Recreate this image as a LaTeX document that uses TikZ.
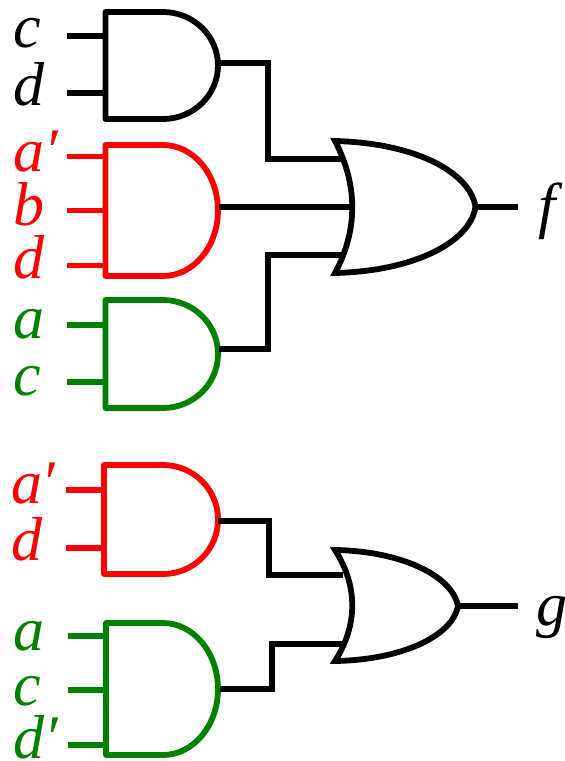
\documentclass[tikz,border=0pt]{standalone}
\usepackage{tikz}
\usepackage{fontspec}
\setmainfont{Liberation Serif}
\usetikzlibrary{positioning}
\definecolor{gateRed}{RGB}{255,0,0}
\definecolor{gateGreen}{RGB}{0,128,0}
\tikzstyle{wire} = [line width=5.8pt,line cap=butt,line join=miter]
\tikzstyle{gate} = [line width=5.8pt,line join=round]
\tikzstyle{orgate} = [line width=5.8pt,line join=miter,miter limit=10]
\tikzstyle{lit} = [anchor=base west,inner sep=0pt,outer sep=0pt,font=\fontsize{62}{62}\selectfont\itshape]
\newcommand{\andbody}[5]{\draw [gate,#1] (#2,#3) -- (163,#3) arc (90:-90:55 and #5) -- (#2,#4) -- cycle;}
\begin{document}
\begin{tikzpicture}[x=1pt,y=-1pt]
	\useasboundingbox (0,0) rectangle (565,761);

	% first output
	\andbody{black}{105.5}{12}{119}{-53.5}
	\andbody{gateRed}{105.5}{145}{276}{-65.5}
	\andbody{gateGreen}{105.5}{300}{408}{-54}

	\coordinate (orfTop) at (335,141);
	\coordinate (orfBot) at (335,273);
	\coordinate (orfOut) at (475.5,207);
	\draw [orgate] (orfTop) .. controls (415,143) and (470,172) .. (orfOut) .. controls (470,242) and (415,271) .. (orfBot) .. controls (358,230) and (358,185) .. cycle;

	\node (c1)[lit] at (13,47) {c};
	\node (d1)[lit] at (13,105) {d};
	\node (a2)[lit,gateRed] at (13,171) {a′};
	\node (b2)[lit,gateRed] at (13,225) {b};
	\node (d2)[lit,gateRed] at (13,278) {d};
	\node (a3)[lit,gateGreen] at (13,338) {a};
	\node (c3)[lit,gateGreen] at (13,395) {c};
	\node (f)[lit] at (538,226) {f};

	\draw [wire] (67,36) -- (105.5,36);
	\draw [wire] (67,93) -- (105.5,93);
	\draw [wire,gateRed] (67,156.5) -- (105.5,156.5);
	\draw [wire,gateRed] (67,210.5) -- (105.5,210.5);
	\draw [wire,gateRed] (67,265.5) -- (105.5,265.5);
	\draw [wire,gateGreen] (67,325) -- (105.5,325);
	\draw [wire,gateGreen] (67,382) -- (105.5,382);

	\draw [wire] (219,63) -| (268,159) -- (342,159);
	\draw [wire] (219,207) -- (352,207);
	\draw [wire] (219,349) -| (268,255) -- (342,255);
	\draw [wire] (orfOut) -- (518,207);

	% second output
	\andbody{gateRed}{104}{465}{574}{-54.5}
	\andbody{gateGreen}{106}{623}{755}{-66}

	\coordinate (orgTop) at (335,550);
	\coordinate (orgBot) at (335,661);
	\coordinate (orgOut) at (458,606);
	\draw [orgate] (orgTop) .. controls (400,551) and (452,575) .. (orgOut) .. controls (452,637) and (400,660) .. (orgBot) .. controls (358,625) and (358,586) .. cycle;

	\node (a4)[lit,gateRed] at (11,503) {a′};
	\node (d4)[lit,gateRed] at (11,560) {d};
	\node (a5)[lit,gateGreen] at (13,650) {a};
	\node (c5)[lit,gateGreen] at (13,705) {c};
	\node (d5)[lit,gateGreen] at (13,758) {d′};
	\node (g)[lit] at (536,625) {g};

	\draw [wire,gateRed] (66,490) -- (104,490);
	\draw [wire,gateRed] (66,548) -- (104,548);
	\draw [wire,gateGreen] (68,636) -- (106,636);
	\draw [wire,gateGreen] (68,690) -- (106,690);
	\draw [wire,gateGreen] (68,745) -- (106,745);

	\draw [wire] (218,521) -| (269,575) -- (343,575);
	\draw [wire] (220,689) -| (272,644) -- (343,644);
	\draw [wire] (orgOut) -- (518,606);

\end{tikzpicture}
\end{document}
